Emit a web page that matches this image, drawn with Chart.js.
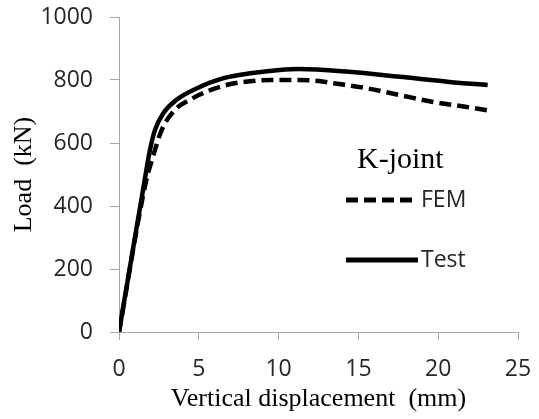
<!DOCTYPE html>
<html>
<head>
<meta charset="utf-8">
<script src="https://cdn.jsdelivr.net/npm/chart.js@4/dist/chart.umd.min.js"></script>
<style>
  html, body { margin: 0; padding: 0; background: #fff; }
  #wrap { position: relative; width: 539px; height: 419px; }
</style>
</head>
<body>
<div id="wrap"><canvas id="loadChart" width="539" height="419"></canvas></div>
<script>
// FEM curve (dashed) - displacement (mm) / load (kN)
const femDisp = [0, 1.7, 2.15, 2.67, 3.5, 4.44, 5.48, 6.73, 8.2, 9.5, 11.3, 12.5, 13.4, 15.5, 17.6, 19.6, 21.7, 23.3];
const femLoad = [0, 480, 560, 641, 705, 737, 763, 784, 796, 800, 800, 797, 790, 774, 752, 731, 715, 702];

// Test curve (solid)
const testDisp = [0, 1.6, 1.94, 2.25, 2.77, 3.6, 4.85, 6.5, 8.5, 10.06, 11.3, 14.4, 17.6, 20.7, 23.1];
const testLoad = [0, 480, 578, 641, 694, 737, 773, 805, 823, 832, 835, 826, 810, 794, 784];

const xTicks = [0, 5, 10, 15, 20, 25];
const yTicks = [0, 200, 400, 600, 800, 1000];

const seriesNames = ['FEM', 'Test'];
const legendTitle = 'K-joint';

const axisGray = '#a6a6a6';
const tickFont = { family: 'Open Sans', size: 23 };
const serif = 'Liberation Serif';

function toPoints(xs, ys) {
    return xs.map((x, i) => ({ x: x, y: ys[i] }));
}

/** legend drawn inside the plot, like the original */
const insideLegend = {
    id: 'insideLegend',
    afterDraw(chart) {
        const ctx = chart.ctx;
        ctx.save();
        ctx.fillStyle = '#000';
        ctx.font = '30px "' + serif + '"';
        ctx.textBaseline = 'alphabetic';
        ctx.fillText(legendTitle, 357, 168);

        const rows = [
            { name: seriesNames[0], y: 200, dash: [12, 6] },
            { name: seriesNames[1], y: 260, dash: [] }
        ];
        rows.forEach(r => {
            ctx.beginPath();
            ctx.setLineDash(r.dash);
            ctx.lineWidth = 5;
            ctx.strokeStyle = '#000';
            ctx.moveTo(346, r.y);
            ctx.lineTo(418, r.y);
            ctx.stroke();
            ctx.setLineDash([]);
            ctx.fillStyle = '#262626';
            ctx.font = '23px "Open Sans"';
            ctx.textBaseline = 'middle';
            ctx.fillText(r.name, 421, r.y);
        });
        ctx.restore();
    }
};

new Chart(document.getElementById('loadChart'), {
    type: 'line',
    data: {
        datasets: [
            {
                label: seriesNames[0],
                data: toPoints(femDisp, femLoad),
                borderColor: '#000',
                borderWidth: 4.5,
                borderDash: [12, 6],
                pointRadius: 0,
                fill: false,
                cubicInterpolationMode: 'monotone'
            },
            {
                label: seriesNames[1],
                data: toPoints(testDisp, testLoad),
                borderColor: '#000',
                borderWidth: 4.5,
                pointRadius: 0,
                fill: false,
                cubicInterpolationMode: 'monotone'
            }
        ]
    },
    options: {
        responsive: false,
        animation: false,
        layout: { padding: { top: 17, right: 21, left: 0, bottom: 0 } },
        plugins: {
            legend: { display: false },
            tooltip: { enabled: false }
        },
        scales: {
            x: {
                type: 'linear',
                min: 0,
                max: 25,
                afterBuildTicks: s => { s.ticks = xTicks.map(v => ({ value: v })); },
                afterFit: s => { s.height = 87; s.paddingLeft = 0; s.paddingRight = 0; },
                ticks: { font: tickFont, color: '#262626', padding: 16, maxRotation: 0, callback: v => String(v) },
                grid: { drawOnChartArea: false, drawTicks: true, tickLength: 8, color: axisGray },
                border: { color: axisGray, width: 1 },
                title: {
                    display: true,
                    text: 'Vertical displacement  (mm)',
                    font: { family: serif, size: 26 },
                    color: '#000',
                    padding: { top: 0, bottom: 4 }
                }
            },
            y: {
                type: 'linear',
                min: 0,
                max: 1000,
                afterBuildTicks: s => { s.ticks = yTicks.map(v => ({ value: v })); },
                afterFit: s => { s.width = 119; s.paddingTop = 0; s.paddingBottom = 0; },
                ticks: { font: tickFont, color: '#262626', padding: 17, callback: v => String(v) },
                grid: { drawOnChartArea: false, drawTicks: true, tickLength: 9, color: axisGray },
                border: { color: axisGray, width: 1 },
                title: {
                    display: true,
                    text: 'Load  (kN)',
                    font: { family: serif, size: 26 },
                    color: '#000',
                    padding: { top: 9, bottom: 0 }
                }
            }
        }
    },
    plugins: [insideLegend]
});
</script>
</body>
</html>
